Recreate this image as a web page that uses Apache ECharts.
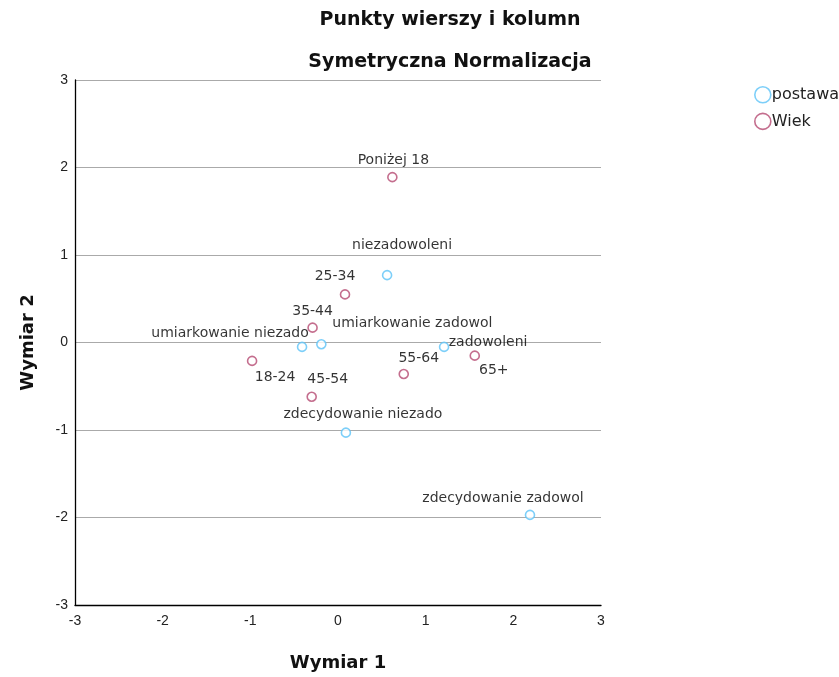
<!DOCTYPE html>
<html>
<head>
<meta charset="utf-8">
<script src="https://cdn.jsdelivr.net/npm/echarts@6/dist/echarts.min.js"></script>
<style>
  html, body { margin: 0; padding: 0; background: #fff; }
  #chart { width: 839px; height: 677px; }
</style>
</head>
<body>
<div id="chart"></div>
<script>
// postawa (column points)
const postawaNames = ['niezadowoleni', 'umiarkowanie zadowol', 'umiarkowanie niezado', 'zadowoleni', 'zdecydowanie niezado', 'zdecydowanie zadowol'];
const postawaX = [0.56, -0.19, -0.41, 1.21, 0.09, 2.19];
const postawaY = [0.77, -0.02, -0.05, -0.05, -1.03, -1.97];

// Wiek (row points)
const wiekNames = ['Poniżej 18', '25-34', '35-44', '18-24', '45-54', '55-64', '65+'];
const wiekX = [0.62, 0.08, -0.29, -0.98, -0.30, 0.75, 1.56];
const wiekY = [1.89, 0.55, 0.17, -0.21, -0.62, -0.36, -0.15];

const axisTicks = [-3, -2, -1, 0, 1, 2, 3];

// label placement relative to each point (px, text centre)
const labelOffsets = {
  'niezadowoleni': [15, -30],
  'umiarkowanie zadowol': [91, -21],
  'umiarkowanie niezado': [-72, -14],
  'zadowoleni': [44, -5],
  'zdecydowanie niezado': [17, -18],
  'zdecydowanie zadowol': [-27, -17],
  'Poniżej 18': [1, -17],
  '25-34': [-10, -18],
  '35-44': [0, -16],
  '18-24': [23, 16],
  '45-54': [16, -17],
  '55-64': [15, -16],
  '65+': [19, 15]
};

const FONT = '"DejaVu Sans", sans-serif';
const TICKFONT = '"Liberation Sans", Arial, sans-serif';
const BLUE = '#5cc3f7';
const RED = '#b54a72';

function points(names, xs, ys) {
  return names.map((n, i) => ({
    name: n,
    value: [xs[i], ys[i]],
    label: { offset: labelOffsets[n] }
  }));
}

const chart = echarts.init(document.getElementById('chart'));

chart.setOption({
  animation: false,
  title: [
    {
      text: 'Punkty wierszy i kolumn',
      left: 445, top: 6, textAlign: 'center',
      textStyle: { fontFamily: FONT, fontSize: 19, fontWeight: 'bold', color: '#111' }
    },
    {
      text: 'Symetryczna Normalizacja',
      left: 445, top: 48, textAlign: 'center',
      textStyle: { fontFamily: FONT, fontSize: 19, fontWeight: 'bold', color: '#111' }
    }
  ],
  legend: {
    orient: 'vertical',
    left: 749, top: 81,
    itemWidth: 16, itemHeight: 16, itemGap: 9,
    textStyle: { fontFamily: FONT, fontSize: 16, color: '#222', padding: [0, 0, 0, -4] },
    data: [
      { name: 'postawa', icon: 'circle', itemStyle: { color: '#fff', borderColor: BLUE, borderWidth: 1.6 } },
      { name: 'Wiek', icon: 'circle', itemStyle: { color: '#fff', borderColor: RED, borderWidth: 1.6 } }
    ]
  },
  grid: { left: 75, right: 238, top: 80, bottom: 72, containLabel: false },
  xAxis: {
    type: 'value', min: -3, max: 3, interval: 1,
    name: 'Wymiar 1', nameLocation: 'middle', nameGap: 49,
    nameTextStyle: { fontFamily: FONT, fontSize: 18, fontWeight: 'bold', color: '#111' },
    axisLine: { show: true, onZero: false, lineStyle: { color: '#000', width: 1.3 } },
    axisTick: { show: false },
    axisLabel: { fontFamily: TICKFONT, fontSize: 14, color: '#222', margin: 9,
      formatter: v => axisTicks.includes(v) ? String(v) : '' },
    splitLine: { show: false }
  },
  yAxis: {
    type: 'value', min: -3, max: 3, interval: 1,
    name: 'Wymiar 2', nameLocation: 'middle', nameGap: 38, nameRotate: 90,
    nameTextStyle: { fontFamily: FONT, fontSize: 18, fontWeight: 'bold', color: '#111' },
    axisLine: { show: true, onZero: false, lineStyle: { color: '#000', width: 1.3 } },
    axisTick: { show: false },
    axisLabel: { fontFamily: TICKFONT, fontSize: 14, color: '#222', margin: 7,
      formatter: v => axisTicks.includes(v) ? String(v) : '' },
    splitLine: { show: true, lineStyle: { color: '#aaaaaa', width: 1 } }
  },
  series: [
    {
      name: 'postawa', type: 'scatter',
      symbol: 'circle', symbolSize: 9,
      itemStyle: { color: '#fff', borderColor: BLUE, borderWidth: 1.6 },
      label: { show: true, position: 'inside', formatter: '{b}',
        fontFamily: FONT, fontSize: 14, color: '#000' },
      data: points(postawaNames, postawaX, postawaY)
    },
    {
      name: 'Wiek', type: 'scatter',
      symbol: 'circle', symbolSize: 9,
      itemStyle: { color: '#fff', borderColor: RED, borderWidth: 1.6 },
      label: { show: true, position: 'inside', formatter: '{b}',
        fontFamily: FONT, fontSize: 14, color: '#000' },
      data: points(wiekNames, wiekX, wiekY)
    }
  ]
});
</script>
</body>
</html>
